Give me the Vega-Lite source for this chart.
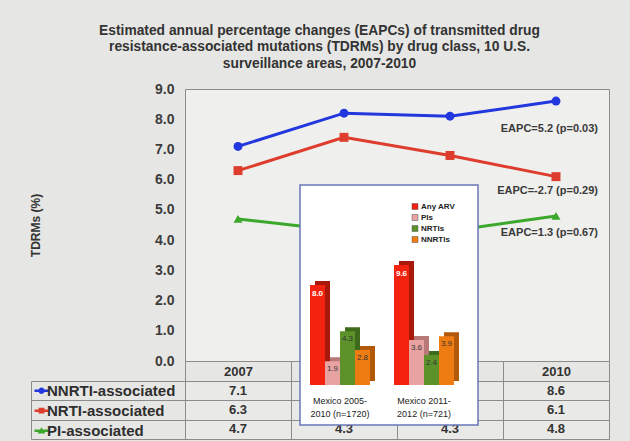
{
  "$schema": "https://vega.github.io/schema/vega-lite/v6.json",
  "background": "#e6e6e4",
  "padding": {"left": 29, "top": 23, "right": 20, "bottom": 3},
  "config": {
    "font": "Liberation Sans",
    "view": {"stroke": "#8c8c8c"},
    "axis": {"labelFont": "Liberation Sans", "titleFont": "Liberation Sans"},
    "legend": {"labelFont": "Liberation Sans"}
  },
  "title": {
    "text": ["Estimated annual percentage changes (EAPCs) of transmitted drug", "resistance-associated mutations (TDRMs) by drug class, 10 U.S.", "surveillance areas, 2007-2010"],
    "fontSize": 13.8, "fontWeight": "bold", "color": "#333333", "lineHeight": 16.5,
    "anchor": "middle", "frame": "bounds", "offset": 11
  },
  "datasets": {
    "trend": [
      {"year": "2007", "series": "NNRTI-associated", "value": 7.1, "eapc": "EAPC=5.2 (p=0.03)"},
      {"year": "2008", "series": "NNRTI-associated", "value": 8.2, "eapc": "EAPC=5.2 (p=0.03)"},
      {"year": "2009", "series": "NNRTI-associated", "value": 8.1, "eapc": "EAPC=5.2 (p=0.03)"},
      {"year": "2010", "series": "NNRTI-associated", "value": 8.6, "eapc": "EAPC=5.2 (p=0.03)"},
      {"year": "2007", "series": "NRTI-associated", "value": 6.3, "eapc": "EAPC=-2.7 (p=0.29)"},
      {"year": "2008", "series": "NRTI-associated", "value": 7.4, "eapc": "EAPC=-2.7 (p=0.29)"},
      {"year": "2009", "series": "NRTI-associated", "value": 6.8, "eapc": "EAPC=-2.7 (p=0.29)"},
      {"year": "2010", "series": "NRTI-associated", "value": 6.1, "eapc": "EAPC=-2.7 (p=0.29)"},
      {"year": "2007", "series": "PI-associated", "value": 4.7, "eapc": "EAPC=1.3 (p=0.67)"},
      {"year": "2008", "series": "PI-associated", "value": 4.3, "eapc": "EAPC=1.3 (p=0.67)"},
      {"year": "2009", "series": "PI-associated", "value": 4.3, "eapc": "EAPC=1.3 (p=0.67)"},
      {"year": "2010", "series": "PI-associated", "value": 4.8, "eapc": "EAPC=1.3 (p=0.67)"}
    ],
    "inset": [
      {"group": "Mexico 2005-\n2010 (n=1720)", "drug": "Any ARV", "value": 8.0},
      {"group": "Mexico 2005-\n2010 (n=1720)", "drug": "PIs", "value": 1.9},
      {"group": "Mexico 2005-\n2010 (n=1720)", "drug": "NRTIs", "value": 4.3},
      {"group": "Mexico 2005-\n2010 (n=1720)", "drug": "NNRTIs", "value": 2.8},
      {"group": "Mexico 2011-\n2012 (n=721)", "drug": "Any ARV", "value": 9.6},
      {"group": "Mexico 2011-\n2012 (n=721)", "drug": "PIs", "value": 3.6},
      {"group": "Mexico 2011-\n2012 (n=721)", "drug": "NRTIs", "value": 2.4},
      {"group": "Mexico 2011-\n2012 (n=721)", "drug": "NNRTIs", "value": 3.9}
    ]
  },
  "bounds": "flush",
  "spacing": 20,
  "resolve": {"scale": {"color": "independent", "shape": "independent"}, "legend": {"color": "independent", "shape": "independent"}},
  "vconcat": [
    {
      "width": 424,
      "height": 272,
      "view": {"fill": "#efefed", "stroke": "#8c8c8c"},
      "data": {"name": "trend"},
      "encoding": {
        "x": {"field": "year", "type": "ordinal",
          "scale": {"type": "band", "paddingInner": 0, "paddingOuter": 0},
          "axis": {"title": null, "labelAngle": 0, "labelFontSize": 13, "labelFontWeight": "bold", "labelColor": "#333333",
            "tickBand": "extent", "tickSize": 20, "tickColor": "#8c8c8c", "domain": false,
            "labelPadding": -10, "labelBaseline": "middle"}},
        "y": {"field": "value", "type": "quantitative",
          "scale": {"domain": [0, 9], "nice": false, "zero": true},
          "axis": {"title": "TDRMs (%)", "values": [0, 1, 2, 3, 4, 5, 6, 7, 8, 9], "format": ".1f", "grid": false, "domain": false, "ticks": false,
            "labelPadding": 11, "labelFontSize": 14, "labelFontWeight": "bold", "labelColor": "#3c3c3c",
            "titleFontSize": 12, "titleFontWeight": "bold", "titleColor": "#333333", "titlePadding": 112}}
      },
      "layer": [
        {
          "mark": {"type": "line", "strokeWidth": 3},
          "encoding": {
            "color": {"field": "series", "type": "nominal",
              "scale": {"domain": ["NNRTI-associated", "NRTI-associated", "PI-associated"], "range": ["#2237dd", "#de3c2d", "#3ba82b"]},
              "legend": null}
          }
        },
        {
          "mark": {"type": "point", "filled": true, "opacity": 1, "size": 80},
          "encoding": {
            "color": {"field": "series", "type": "nominal",
              "scale": {"domain": ["NNRTI-associated", "NRTI-associated", "PI-associated"], "range": ["#2237dd", "#de3c2d", "#3ba82b"]},
              "legend": null},
            "shape": {"field": "series", "type": "nominal",
              "scale": {"domain": ["NNRTI-associated", "NRTI-associated", "PI-associated"], "range": ["circle", "square", "triangle-up"]},
              "legend": null}
          }
        },
        {
          "transform": [{"filter": "datum.year == '2010' && datum.series == 'NNRTI-associated'"}],
          "mark": {"type": "text", "align": "right", "baseline": "middle", "dx": 42, "dy": 28, "fontSize": 11, "fontWeight": "bold", "color": "#3a3a3a"},
          "encoding": {"text": {"field": "eapc"}}
        },
        {
          "transform": [{"filter": "datum.year == '2010' && datum.series == 'NRTI-associated'"}],
          "mark": {"type": "text", "align": "right", "baseline": "middle", "dx": 42, "dy": 14, "fontSize": 11, "fontWeight": "bold", "color": "#3a3a3a"},
          "encoding": {"text": {"field": "eapc"}}
        },
        {
          "transform": [{"filter": "datum.year == '2010' && datum.series == 'PI-associated'"}],
          "mark": {"type": "text", "align": "right", "baseline": "middle", "dx": 42, "dy": 17, "fontSize": 11, "fontWeight": "bold", "color": "#3a3a3a"},
          "encoding": {"text": {"field": "eapc"}}
        }
      ]
    },
    {
      "width": 424,
      "height": 58,
      "view": {"fill": "#e9e9e7", "stroke": "#8c8c8c"},
      "layer": [
        {
          "data": {"name": "trend"},
          "mark": {"type": "text", "fontSize": 13, "fontWeight": "bold", "color": "#333333", "baseline": "middle"},
          "encoding": {
            "x": {"field": "year", "type": "ordinal",
              "scale": {"type": "band", "paddingInner": 0, "paddingOuter": 0},
              "axis": {"orient": "top", "title": null, "labels": false, "ticks": false, "domain": false, "grid": true, "gridColor": "#8c8c8c", "gridOpacity": 1, "tickBand": "extent"}},
            "y": {"field": "series", "type": "nominal", "sort": ["NNRTI-associated", "NRTI-associated", "PI-associated"],
              "scale": {"type": "band", "paddingInner": 0, "paddingOuter": 0},
              "axis": {"title": null, "labels": false, "grid": false, "domain": true, "domainColor": "#8c8c8c", "ticks": true, "tickBand": "extent", "tickSize": -578, "tickColor": "#8c8c8c", "offset": 154}},
            "text": {"field": "value", "type": "quantitative", "format": ".1f"}
          }
        },
        {
          "data": {"name": "trend"},
          "mark": {"type": "point", "filled": true, "opacity": 0},
          "encoding": {
            "x": {"field": "year", "type": "ordinal", "axis": null},
            "y": {"field": "series", "type": "nominal", "axis": null},
            "color": {"field": "series", "type": "nominal",
              "scale": {"domain": ["NNRTI-associated", "NRTI-associated", "PI-associated"], "range": ["#2237dd", "#de3c2d", "#3ba82b"]},
              "legend": {"title": null, "orient": "none", "legendX": -151, "legendY": 0, "labelFontSize": 15, "labelFontWeight": "bold", "labelColor": "#2e2e2e",
                "symbolSize": 196, "symbolOpacity": 1, "symbolStrokeWidth": 0, "clipHeight": 19.33, "rowPadding": 0, "padding": 0, "labelOffset": -2, "labelLimit": 200}},
            "shape": {"field": "series", "type": "nominal",
              "scale": {"domain": ["NNRTI-associated", "NRTI-associated", "PI-associated"],
                "range": ["M-1,-0.18H1V0.18H-1Z M0.45,0A0.45,0.45,0,1,1,-0.45,0A0.45,0.45,0,1,1,0.45,0Z",
                          "M-1,-0.18H1V0.18H-1Z M-0.42,-0.42H0.42V0.42H-0.42Z",
                          "M-1,-0.18H1V0.18H-1Z M0,-0.5L0.55,0.42H-0.55Z"]},
              "legend": {"title": null, "orient": "none", "legendX": -151, "legendY": 0, "labelFontSize": 15, "labelFontWeight": "bold", "labelColor": "#2e2e2e",
                "symbolSize": 196, "symbolOpacity": 1, "symbolStrokeWidth": 0, "clipHeight": 19.33, "rowPadding": 0, "padding": 0, "labelOffset": -2, "labelLimit": 200}}
          }
        },
        {
          "data": {"values": [{"panel": "Mexico inset"}]},
          "mark": {"type": "rect", "fill": "#ffffff", "stroke": "#6a78b8", "strokeWidth": 1.5},
          "encoding": {
            "x": {"datum": 0, "type": "quantitative", "scale": {"domain": [0, 1], "range": [115, 293], "nice": false, "zero": false}, "axis": null},
            "x2": {"datum": 1},
            "y": {"datum": 0, "type": "quantitative", "scale": {"domain": [0, 1], "range": [44, -196], "nice": false, "zero": false}, "axis": null},
            "y2": {"datum": 1}
          }
        },
        {
          "data": {"name": "inset"},
          "mark": {"type": "bar"},
          "encoding": {
            "x": {"field": "group", "type": "nominal", "sort": null,
              "scale": {"type": "band", "range": [130, 274], "paddingInner": 0.2857, "paddingOuter": 0}, "axis": null},
            "xOffset": {"field": "drug", "type": "nominal", "sort": ["Any ARV", "PIs", "NRTIs", "NNRTIs"], "scale": {"paddingInner": 0, "paddingOuter": 0}},
            "y": {"field": "value", "type": "quantitative",
              "scale": {"domain": [0, 10], "range": [0, -125], "nice": false, "zero": true}, "axis": null},
            "color": {"field": "drug", "type": "nominal",
              "scale": {"domain": ["Any ARV", "PIs", "NRTIs", "NNRTIs"], "range": ["#a9190b", "#b87878", "#3d6a1b", "#b25a0a"]},
              "legend": null}
          }
        },
        {
          "data": {"name": "inset"},
          "encoding": {
            "x": {"field": "group", "type": "nominal", "sort": null,
              "scale": {"type": "band", "range": [125, 269], "paddingInner": 0.2857, "paddingOuter": 0}, "axis": null},
            "y": {"field": "value", "type": "quantitative",
              "scale": {"domain": [0, 10], "range": [4, -121], "nice": false, "zero": true}, "axis": null}
          },
          "layer": [
            {
              "mark": {"type": "bar"},
              "encoding": {
                "xOffset": {"field": "drug", "type": "nominal", "sort": ["Any ARV", "PIs", "NRTIs", "NNRTIs"], "scale": {"paddingInner": 0, "paddingOuter": 0}},
                "color": {"field": "drug", "type": "nominal",
                  "scale": {"domain": ["Any ARV", "PIs", "NRTIs", "NNRTIs"], "range": ["#f3230f", "#e8a2a2", "#5d922b", "#ef7c12"]},
                  "legend": {"title": null, "orient": "none", "legendX": 226, "legendY": -180, "symbolType": "square", "symbolSize": 36,
                    "labelFontSize": 8, "labelFontWeight": "bold", "labelColor": "#222222", "clipHeight": 11, "rowPadding": -1, "padding": 0, "labelOffset": 2, "symbolStrokeWidth": 0.5, "symbolStrokeColor": "#555555"}}
              }
            },
            {
              "transform": [{"filter": "datum.drug == 'Any ARV'"}],
              "mark": {"type": "text", "color": "#ffffff", "fontWeight": "bold", "fontSize": 8, "baseline": "middle", "dy": 9},
              "encoding": {
                "xOffset": {"field": "drug", "type": "nominal", "sort": ["Any ARV", "PIs", "NRTIs", "NNRTIs"], "scale": {"paddingInner": 0, "paddingOuter": 0}},
                "text": {"field": "value", "type": "quantitative", "format": ".1f"}
              }
            },
            {
              "transform": [{"filter": "datum.drug != 'Any ARV'"}],
              "mark": {"type": "text", "color": "#333333", "fontSize": 8, "baseline": "middle", "dy": 8},
              "encoding": {
                "xOffset": {"field": "drug", "type": "nominal", "sort": ["Any ARV", "PIs", "NRTIs", "NNRTIs"], "scale": {"paddingInner": 0, "paddingOuter": 0}},
                "text": {"field": "value", "type": "quantitative", "format": ".1f"}
              }
            },
            {
              "transform": [{"filter": "datum.drug == 'Any ARV'"}],
              "mark": {"type": "text", "lineBreak": "\n", "fontSize": 9, "baseline": "middle", "dy": 16, "lineHeight": 13, "color": "#222222"},
              "encoding": {
                "y": {"datum": 0, "type": "quantitative"},
                "text": {"field": "group"}
              }
            }
          ]
        }
      ],
      "resolve": {"scale": {"x": "independent", "y": "independent", "color": "independent", "shape": "independent"}}
    }
  ]
}
